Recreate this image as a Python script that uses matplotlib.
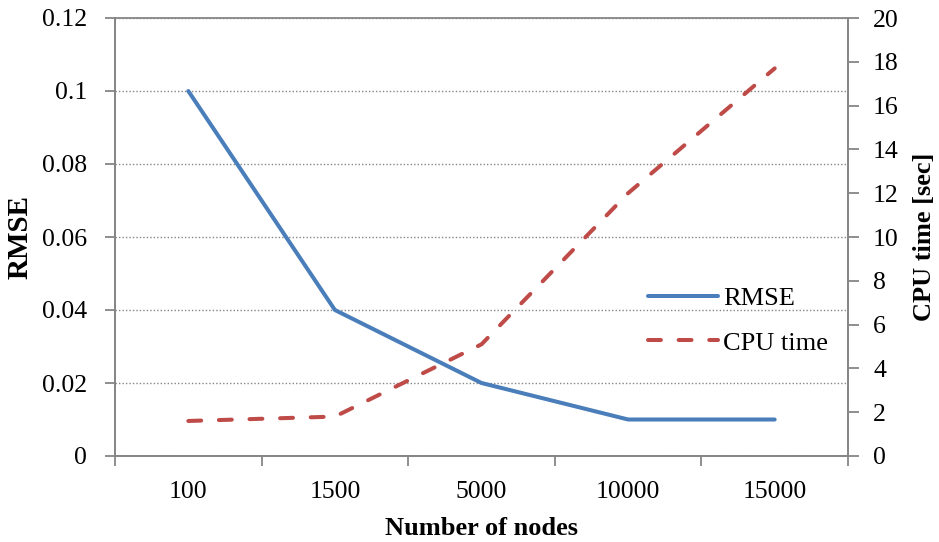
import numpy as np
import matplotlib.pyplot as plt

plt.rcParams['font.family'] = ['Liberation Serif', 'DejaVu Serif']

nodes = ['100', '1500', '5000', '10000', '15000']
rmse = [0.1, 0.04, 0.02, 0.01, 0.01]
cpu_time = [1.6, 1.8, 5.1, 12.0, 17.7]

blue = '#4a7ebb'
red = '#be4b48'
grey = '#868686'

fig = plt.figure(figsize=(9.39, 5.42), dpi=100)
ax = fig.add_axes([115/939, 86/542, 733/939, 438/542])
ax2 = ax.twinx()

x = np.arange(len(nodes))
l1, = ax.plot(x, rmse, color=blue, lw=2.9, solid_capstyle='round', label='RMSE')
l2, = ax2.plot(x, cpu_time, color=red, lw=2.9, ls=(0, (3.2, 4.4)),
               dash_capstyle='round', label='CPU time')

ax.set_xlim(-0.5, len(nodes) - 0.5)
ax.set_ylim(0, 0.12)
ax.set_yticks(np.arange(0, 0.121, 0.02))
ax.set_yticklabels(['0', '0.02', '0.04', '0.06', '0.08', '0.1', '0.12'])
ax2.set_ylim(0, 20)
ax2.set_yticks(np.arange(0, 21, 2))

ax.set_xticks(x)
ax.set_xticklabels(nodes)
ax.set_xticks(np.arange(-0.5, len(nodes)), minor=True)
ax.tick_params(axis='x', which='major', length=0, pad=18, labelsize=18.5)
ax.tick_params(axis='x', which='minor', length=7, width=1.3, color=grey, direction='out')
ax.tick_params(axis='y', length=7, width=1.3, color=grey, labelsize=18.5, pad=13)
ax2.tick_params(axis='y', length=8, width=1.3, color=grey, labelsize=18.5, pad=10)

for a in (ax, ax2):
    for s in a.spines.values():
        s.set_color(grey)
        s.set_linewidth(1.3)
ax.spines['top'].set_visible(False)
ax2.spines['top'].set_visible(False)
ax.axhline(0.12, color=grey, lw=1.3, clip_on=False)

ax.grid(axis='y', color=grey, ls=(0, (1, 1.5)), lw=1)
ax.set_axisbelow(True)

ax.set_xlabel('Number of nodes', fontsize=19, fontweight='bold', labelpad=10)
ax.set_ylabel('RMSE', fontsize=21, fontweight='bold', labelpad=6)
ax2.set_ylabel('CPU time [sec]', fontsize=19, fontweight='bold', labelpad=10)

ax2.legend([l1, l2], ['RMSE', 'CPU time'], loc='center left',
           bbox_to_anchor=(0.709, 0.309), frameon=False, fontsize=19,
           borderpad=0, handlelength=2.65, handletextpad=0.2, labelspacing=0.8)

fig.savefig('out.png', dpi=100)
